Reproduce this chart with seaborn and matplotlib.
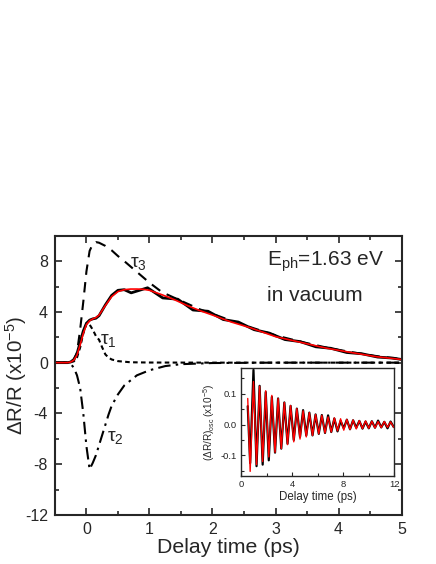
import numpy as np
import pandas as pd
import matplotlib
matplotlib.use("Agg")
import matplotlib.pyplot as plt
from matplotlib.ticker import MultipleLocator
import seaborn as sns

# main panel: measured trace, fit and the three components (x10^-5)
t_fit = [-0.5, -0.3, -0.25, -0.2, -0.15, -0.1, -0.05, 0.0, 0.05, 0.1, 0.15, 0.2, 0.3, 0.4, 0.5,
         0.6, 0.7, 0.8, 0.9, 1.0, 1.2, 1.4, 1.6, 1.8, 2.0, 2.3, 2.6, 3.0, 3.4, 3.8, 4.2, 4.6, 5.0]
v_fit = [0, 0, 0.05, 0.2, 0.6, 1.4, 2.3, 3.0, 3.3, 3.45, 3.55, 3.75, 4.5, 5.2, 5.6,
         5.75, 5.8, 5.8, 5.78, 5.7, 5.35, 4.95, 4.5, 4.1, 3.75, 3.2, 2.75, 2.05, 1.6, 1.15, 0.8, 0.47, 0.25]

t_data = [-0.5, -0.3, -0.25, -0.2, -0.15, -0.1, -0.05, 0.0, 0.05, 0.1, 0.15, 0.2, 0.3, 0.4, 0.5,
          0.6, 0.71, 0.97, 1.21, 1.45, 1.69, 1.93, 2.17, 2.41, 2.66, 2.90, 3.15, 3.39, 3.64,
          3.88, 4.13, 4.37, 4.62, 4.86, 5.0]
v_data = [0, 0, 0.05, 0.25, 0.7, 1.6, 2.5, 3.1, 3.35, 3.45, 3.5, 3.7, 4.55, 5.3, 5.7,
          5.75, 5.5, 5.9, 5.1, 5.0, 4.15, 4.05, 3.4, 3.2, 2.6, 2.33, 1.82, 1.66, 1.25,
          1.13, 0.8, 0.7, 0.44, 0.36, 0.25]

t_tau1 = [-0.5, -0.3, -0.2, -0.15, -0.1, -0.05, 0.0, 0.05, 0.1, 0.15, 0.2, 0.25, 0.3, 0.35, 0.4,
          0.5, 0.7, 1.0, 2.0, 3.0, 5.0]
v_tau1 = [0, 0, 0.1, 0.4, 1.2, 2.3, 3.1, 3.0, 2.6, 2.1, 1.8, 1.2, 0.65, 0.4, 0.25,
          0.12, 0.03, 0.01, 0, 0, 0]

t_tau2 = [-0.5, -0.3, -0.25, -0.2, -0.15, -0.1, -0.05, 0.0, 0.05, 0.1, 0.15, 0.2, 0.3, 0.35, 0.4,
          0.5, 0.6, 0.8, 1.0, 1.25, 1.5, 2.0, 3.0, 4.0, 5.0]
v_tau2 = [0, 0, -0.1, -0.4, -1.0, -2.0, -4.0, -6.6, -8.4, -7.9, -7.3, -6.5, -4.9, -4.1, -3.4,
          -2.5, -1.8, -1.0, -0.6, -0.27, -0.12, -0.03, 0, 0, 0]

t_tau3 = [-0.5, -0.25, -0.2, -0.15, -0.1, -0.05, 0.0, 0.05, 0.1, 0.15, 0.2, 0.3, 0.4, 0.5, 0.6,
          0.8, 1.0, 1.2, 1.4, 1.6, 1.8, 2.0, 2.3, 2.6, 3.0, 3.4, 3.8, 4.2, 4.6, 5.0]
v_tau3 = [0, 0, 0.2, 0.8, 2.6, 4.8, 7.2, 8.8, 9.35, 9.5, 9.45, 9.2, 8.85, 8.4, 8.0,
          7.15, 6.3, 5.55, 5.1, 4.65, 4.2, 3.85, 3.3, 2.8, 2.15, 1.65, 1.2, 0.83, 0.52, 0.27]

# inset: oscillatory part, extrema
t_osc = [0.52, 0.71, 0.97, 1.21, 1.45, 1.69, 1.93, 2.17, 2.41, 2.66, 2.90, 3.15, 3.39, 3.64,
         3.88, 4.13, 4.37, 4.62, 4.86, 5.11, 5.35, 5.60, 5.84, 6.09, 6.33, 6.58, 6.82, 7.07,
         7.31, 7.56, 7.80, 8.05, 8.29, 8.54, 8.78, 9.03, 9.27, 9.52, 9.76, 10.01, 10.25,
         10.50, 10.74, 10.99, 11.23, 11.48, 11.72, 11.97]
osc_data = [0.06, -0.125, 0.178, -0.135, 0.126, -0.13, 0.106, -0.116, 0.09, -0.091, 0.085,
            -0.078, 0.072, -0.062, 0.061, -0.05, 0.052, -0.04, 0.047, -0.035, 0.039, -0.035,
            0.033, -0.03, 0.031, -0.027, 0.03, -0.024, 0.02, -0.022, 0.012, -0.012, 0.016,
            -0.015, 0.014, -0.01, 0.012, -0.013, 0.01, -0.012, 0.011, -0.01, 0.013, -0.009,
            0.009, -0.012, 0.01, -0.008]
osc_fit = [0.085, -0.152, 0.14, -0.13, 0.125, -0.12, 0.11, -0.105, 0.095, -0.09, 0.085,
           -0.078, 0.072, -0.065, 0.062, -0.056, 0.052, -0.047, 0.045, -0.04, 0.039, -0.035,
           0.033, -0.03, 0.03, -0.027, 0.025, -0.024, 0.022, -0.02, 0.019, -0.018, 0.017,
           -0.016, 0.015, -0.014, 0.013, -0.013, 0.012, -0.012, 0.011, -0.011, 0.010, -0.010,
           0.010, -0.009, 0.009, -0.009]

sns.set_style("ticks")
plt.rcParams["font.family"] = ["Liberation Sans", "DejaVu Sans"]
plt.rcParams["mathtext.fontset"] = "custom"
plt.rcParams["mathtext.rm"] = "Liberation Sans"
plt.rcParams["mathtext.it"] = "Liberation Sans:italic"
plt.rcParams["axes.unicode_minus"] = False

fig = plt.figure(figsize=(4.36, 5.64), dpi=100)
ax = fig.add_axes([0.126, 0.087, 0.795, 0.495])

kw = dict(ax=ax, color="black", lw=1.5, sort=False, estimator=None)
sns.lineplot(x=t_tau3, y=v_tau3, dashes=(5, 3.5), **kw)
sns.lineplot(x=t_tau1, y=v_tau1, dashes=(2.2, 1.6), **kw)
sns.lineplot(x=t_tau2, y=v_tau2, dashes=(6, 2.5, 1.2, 2.5), **kw)
sns.lineplot(x=t_data, y=v_data, ax=ax, color="black", lw=2.0, sort=False, estimator=None)
sns.lineplot(x=t_fit, y=v_fit, ax=ax, color="red", lw=1.2, sort=False, estimator=None)

ax.set_xlim(-0.5, 5)
ax.set_ylim(-12, 10)
ax.xaxis.set_major_locator(MultipleLocator(1))
ax.xaxis.set_minor_locator(MultipleLocator(0.5))
ax.yaxis.set_major_locator(MultipleLocator(4))
ax.yaxis.set_minor_locator(MultipleLocator(2))
ax.tick_params(which="both", direction="in", labelsize=11.5, width=1.2, pad=5)
ax.tick_params(which="major", length=5)
ax.tick_params(which="minor", length=3)
ax.tick_params(which="both", top=True, right=True)
for s in ax.spines.values():
    s.set_linewidth(1.5)
ax.set_xlabel("Delay time (ps)", fontsize=15.3, labelpad=1)
ax.set_ylabel("ΔR/R (x10$^{-5}$)", fontsize=14.8)
ax.yaxis.set_label_coords(-0.075, 0.5)

ax.text(0.69, 7.5, "τ$_3$", fontsize=14)
ax.text(0.21, 1.45, "τ$_1$", fontsize=14)
ax.text(0.33, -6.2, "τ$_2$", fontsize=14)
ax.text(2.87, 7.64, r"E$_{\rm ph}$=1.63 eV", fontsize=15)
ax.text(2.87, 4.87, "in vacuum", fontsize=15)

ins = fig.add_axes([0.553, 0.156, 0.351, 0.191])
ins.set_facecolor("white")
sns.lineplot(x=t_osc, y=osc_data, ax=ins, color="black", lw=1.6, sort=False, estimator=None)
sns.lineplot(x=t_osc, y=osc_fit, ax=ins, color="red", lw=1.0, sort=False, estimator=None)
ins.set_xlim(0, 12)
ins.set_ylim(-0.167, 0.183)
ins.xaxis.set_major_locator(MultipleLocator(4))
ins.xaxis.set_minor_locator(MultipleLocator(2))
ins.yaxis.set_minor_locator(MultipleLocator(0.05))
ins.set_yticks([-0.1, 0.0, 0.1])
ins.set_yticklabels(["-0.1", "0.0", "0.1"])
ins.tick_params(which="both", direction="in", labelsize=6.8, width=0.8, pad=3)
ins.tick_params(which="major", length=3)
ins.tick_params(which="minor", length=2)
for s in ins.spines.values():
    s.set_linewidth(1.0)
ins.set_xlabel("Delay time (ps)", fontsize=8.3, labelpad=1)
ins.set_ylabel("($\\Delta$R/R)$_{\\rm osc}$ (x10$^{-5}$)", fontsize=7.2, labelpad=3)

fig.savefig("out.png", dpi=100)
